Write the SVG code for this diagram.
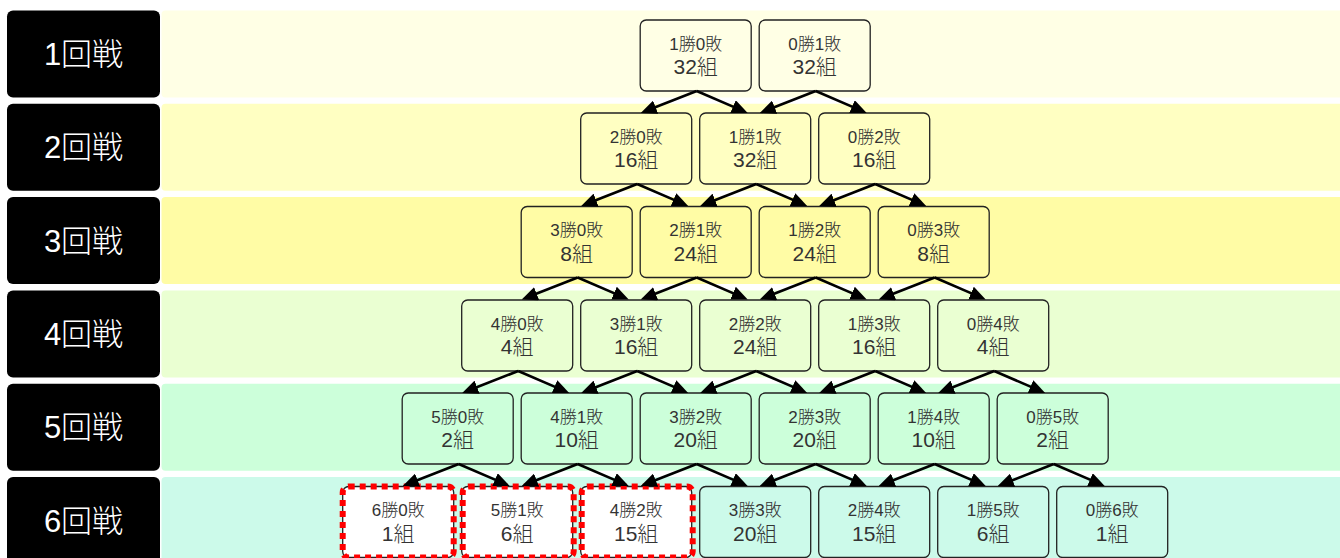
<svg xmlns="http://www.w3.org/2000/svg" width="1340" height="558" viewBox="0 0 1340 558">
<defs>
<marker id="ah" markerUnits="userSpaceOnUse" markerWidth="16" markerHeight="14" refX="10" refY="7" orient="auto"><path d="M0,0 L16,7 L0,14 z" fill="#000"/></marker>
</defs>
<style>
text{font-family:"Liberation Sans","Noto Sans CJK JP",sans-serif;font-weight:300;text-anchor:middle;fill:#333}
.lb{fill:#000}
.lt{fill:#fff;font-size:31px}
.n rect{stroke:#222;stroke-width:1.3}
.t1{font-size:17px}
.t2{font-size:21px}
.r1{fill:#FFFFE5}.r2{fill:#FFFFC2}.r3{fill:#FFFCA5}.r4{fill:#EAFFD2}.r5{fill:#CCFFDA}.r6{fill:#CCFAEA}
.n .hl{fill:none;stroke:#FF0000;stroke-width:6;stroke-dasharray:6 5}
.a{stroke:#000;stroke-width:2.6;fill:none;marker-end:url(#ah)}
</style>
<rect width="1340" height="558" fill="#fff"/>
<g id="rows">
<g id="row1"><rect class="lb" x="7" y="10.5" width="153" height="87" rx="6"/><text class="lt" x="83.5" y="65">1回戦</text><rect class="r1" x="161.5" y="10.5" width="1190" height="87" rx="4"/></g>
<g id="row2"><rect class="lb" x="7" y="103.8" width="153" height="87" rx="6"/><text class="lt" x="83.5" y="158.3">2回戦</text><rect class="r2" x="161.5" y="103.8" width="1190" height="87" rx="4"/></g>
<g id="row3"><rect class="lb" x="7" y="197.1" width="153" height="87" rx="6"/><text class="lt" x="83.5" y="251.6">3回戦</text><rect class="r3" x="161.5" y="197.1" width="1190" height="87" rx="4"/></g>
<g id="row4"><rect class="lb" x="7" y="290.4" width="153" height="87" rx="6"/><text class="lt" x="83.5" y="344.9">4回戦</text><rect class="r4" x="161.5" y="290.4" width="1190" height="87" rx="4"/></g>
<g id="row5"><rect class="lb" x="7" y="383.7" width="153" height="87" rx="6"/><text class="lt" x="83.5" y="438.2">5回戦</text><rect class="r5" x="161.5" y="383.7" width="1190" height="87" rx="4"/></g>
<g id="row6"><rect class="lb" x="7" y="477" width="153" height="87" rx="6"/><text class="lt" x="83.5" y="531.5">6回戦</text><rect class="r6" x="161.5" y="477" width="1190" height="87" rx="4"/></g>
</g>
<g id="nodes">
<g id="n1-0" class="n"><rect class="r1" x="640.2" y="20" width="111" height="71" rx="6"/><text x="695.7" y="49.5"><tspan class="t1">1勝0敗</tspan><tspan class="t2" x="695.7" y="74">32組</tspan></text></g>
<g id="n1-1" class="n"><rect class="r1" x="759.2" y="20" width="111" height="71" rx="6"/><text x="814.7" y="49.5"><tspan class="t1">0勝1敗</tspan><tspan class="t2" x="814.7" y="74">32組</tspan></text></g>

<g id="n2-0" class="n"><rect class="r2" x="580.7" y="113" width="111" height="71" rx="6"/><text x="636.2" y="142.5"><tspan class="t1">2勝0敗</tspan><tspan class="t2" x="636.2" y="167">16組</tspan></text></g>
<g id="n2-1" class="n"><rect class="r2" x="699.7" y="113" width="111" height="71" rx="6"/><text x="755.2" y="142.5"><tspan class="t1">1勝1敗</tspan><tspan class="t2" x="755.2" y="167">32組</tspan></text></g>
<g id="n2-2" class="n"><rect class="r2" x="818.7" y="113" width="111" height="71" rx="6"/><text x="874.2" y="142.5"><tspan class="t1">0勝2敗</tspan><tspan class="t2" x="874.2" y="167">16組</tspan></text></g>

<g id="n3-0" class="n"><rect class="r3" x="521.2" y="206.5" width="111" height="71" rx="6"/><text x="576.7" y="236"><tspan class="t1">3勝0敗</tspan><tspan class="t2" x="576.7" y="260.5">8組</tspan></text></g>
<g id="n3-1" class="n"><rect class="r3" x="640.2" y="206.5" width="111" height="71" rx="6"/><text x="695.7" y="236"><tspan class="t1">2勝1敗</tspan><tspan class="t2" x="695.7" y="260.5">24組</tspan></text></g>
<g id="n3-2" class="n"><rect class="r3" x="759.2" y="206.5" width="111" height="71" rx="6"/><text x="814.7" y="236"><tspan class="t1">1勝2敗</tspan><tspan class="t2" x="814.7" y="260.5">24組</tspan></text></g>
<g id="n3-3" class="n"><rect class="r3" x="878.2" y="206.5" width="111" height="71" rx="6"/><text x="933.7" y="236"><tspan class="t1">0勝3敗</tspan><tspan class="t2" x="933.7" y="260.5">8組</tspan></text></g>

<g id="n4-0" class="n"><rect class="r4" x="461.7" y="300" width="111" height="71" rx="6"/><text x="517.2" y="329.5"><tspan class="t1">4勝0敗</tspan><tspan class="t2" x="517.2" y="354">4組</tspan></text></g>
<g id="n4-1" class="n"><rect class="r4" x="580.7" y="300" width="111" height="71" rx="6"/><text x="636.2" y="329.5"><tspan class="t1">3勝1敗</tspan><tspan class="t2" x="636.2" y="354">16組</tspan></text></g>
<g id="n4-2" class="n"><rect class="r4" x="699.7" y="300" width="111" height="71" rx="6"/><text x="755.2" y="329.5"><tspan class="t1">2勝2敗</tspan><tspan class="t2" x="755.2" y="354">24組</tspan></text></g>
<g id="n4-3" class="n"><rect class="r4" x="818.7" y="300" width="111" height="71" rx="6"/><text x="874.2" y="329.5"><tspan class="t1">1勝3敗</tspan><tspan class="t2" x="874.2" y="354">16組</tspan></text></g>
<g id="n4-4" class="n"><rect class="r4" x="937.7" y="300" width="111" height="71" rx="6"/><text x="993.2" y="329.5"><tspan class="t1">0勝4敗</tspan><tspan class="t2" x="993.2" y="354">4組</tspan></text></g>

<g id="n5-0" class="n"><rect class="r5" x="402.2" y="393" width="111" height="71" rx="6"/><text x="457.7" y="422.5"><tspan class="t1">5勝0敗</tspan><tspan class="t2" x="457.7" y="447">2組</tspan></text></g>
<g id="n5-1" class="n"><rect class="r5" x="521.2" y="393" width="111" height="71" rx="6"/><text x="576.7" y="422.5"><tspan class="t1">4勝1敗</tspan><tspan class="t2" x="576.7" y="447">10組</tspan></text></g>
<g id="n5-2" class="n"><rect class="r5" x="640.2" y="393" width="111" height="71" rx="6"/><text x="695.7" y="422.5"><tspan class="t1">3勝2敗</tspan><tspan class="t2" x="695.7" y="447">20組</tspan></text></g>
<g id="n5-3" class="n"><rect class="r5" x="759.2" y="393" width="111" height="71" rx="6"/><text x="814.7" y="422.5"><tspan class="t1">2勝3敗</tspan><tspan class="t2" x="814.7" y="447">20組</tspan></text></g>
<g id="n5-4" class="n"><rect class="r5" x="878.2" y="393" width="111" height="71" rx="6"/><text x="933.7" y="422.5"><tspan class="t1">1勝4敗</tspan><tspan class="t2" x="933.7" y="447">10組</tspan></text></g>
<g id="n5-5" class="n"><rect class="r5" x="997.2" y="393" width="111" height="71" rx="6"/><text x="1052.7" y="422.5"><tspan class="t1">0勝5敗</tspan><tspan class="t2" x="1052.7" y="447">2組</tspan></text></g>

<g id="n6-0" class="n"><rect x="342.7" y="486.5" width="111" height="71" rx="6" fill="#fff" stroke="#fff"/><rect class="hl" x="342.7" y="486.5" width="111" height="71" rx="6"/><text x="398.2" y="516"><tspan class="t1">6勝0敗</tspan><tspan class="t2" x="398.2" y="540.5">1組</tspan></text></g>
<g id="n6-1" class="n"><rect x="461.7" y="486.5" width="111" height="71" rx="6" fill="#fff"/><rect class="hl" x="462.7" y="486.5" width="111" height="71" rx="6"/><text x="517.2" y="516"><tspan class="t1">5勝1敗</tspan><tspan class="t2" x="517.2" y="540.5">6組</tspan></text></g>
<g id="n6-2" class="n"><rect x="580.7" y="486.5" width="111" height="71" rx="6" fill="#fff"/><rect class="hl" x="581.7" y="486.5" width="111" height="71" rx="6"/><text x="636.2" y="516"><tspan class="t1">4勝2敗</tspan><tspan class="t2" x="636.2" y="540.5">15組</tspan></text></g>
<g id="n6-3" class="n"><rect class="r6" x="699.7" y="486.5" width="111" height="71" rx="6"/><text x="755.2" y="516"><tspan class="t1">3勝3敗</tspan><tspan class="t2" x="755.2" y="540.5">20組</tspan></text></g>
<g id="n6-4" class="n"><rect class="r6" x="818.7" y="486.5" width="111" height="71" rx="6"/><text x="874.2" y="516"><tspan class="t1">2勝4敗</tspan><tspan class="t2" x="874.2" y="540.5">15組</tspan></text></g>
<g id="n6-5" class="n"><rect class="r6" x="937.7" y="486.5" width="111" height="71" rx="6"/><text x="993.2" y="516"><tspan class="t1">1勝5敗</tspan><tspan class="t2" x="993.2" y="540.5">6組</tspan></text></g>
<g id="n6-6" class="n"><rect class="r6" x="1056.7" y="486.5" width="111" height="71" rx="6"/><text x="1112.2" y="516"><tspan class="t1">0勝6敗</tspan><tspan class="t2" x="1112.2" y="540.5">1組</tspan></text></g>
</g>
<g id="connectors">
<path class="a" d="M696.7 91l-50.4 19.8"/><path class="a" d="M696.7 91l45.5 19.6"/>
<path class="a" d="M815.7 91l-50.4 19.8"/><path class="a" d="M815.7 91l45.5 19.6"/>

<path class="a" d="M637.2 184l-50.4 19.8"/><path class="a" d="M637.2 184l45.5 19.6"/>
<path class="a" d="M756.2 184l-50.4 19.8"/><path class="a" d="M756.2 184l45.5 19.6"/>
<path class="a" d="M875.2 184l-50.4 19.8"/><path class="a" d="M875.2 184l45.5 19.6"/>

<path class="a" d="M577.7 277.5l-50.4 19.8"/><path class="a" d="M577.7 277.5l45.5 19.6"/>
<path class="a" d="M696.7 277.5l-50.4 19.8"/><path class="a" d="M696.7 277.5l45.5 19.6"/>
<path class="a" d="M815.7 277.5l-50.4 19.8"/><path class="a" d="M815.7 277.5l45.5 19.6"/>
<path class="a" d="M934.7 277.5l-50.4 19.8"/><path class="a" d="M934.7 277.5l45.5 19.6"/>

<path class="a" d="M518.2 371l-50.4 19.8"/><path class="a" d="M518.2 371l45.5 19.6"/>
<path class="a" d="M637.2 371l-50.4 19.8"/><path class="a" d="M637.2 371l45.5 19.6"/>
<path class="a" d="M756.2 371l-50.4 19.8"/><path class="a" d="M756.2 371l45.5 19.6"/>
<path class="a" d="M875.2 371l-50.4 19.8"/><path class="a" d="M875.2 371l45.5 19.6"/>
<path class="a" d="M994.2 371l-50.4 19.8"/><path class="a" d="M994.2 371l45.5 19.6"/>

<path class="a" d="M458.7 464l-50.4 19.8"/><path class="a" d="M458.7 464l45.5 19.6"/>
<path class="a" d="M577.7 464l-50.4 19.8"/><path class="a" d="M577.7 464l45.5 19.6"/>
<path class="a" d="M696.7 464l-50.4 19.8"/><path class="a" d="M696.7 464l45.5 19.6"/>
<path class="a" d="M815.7 464l-50.4 19.8"/><path class="a" d="M815.7 464l45.5 19.6"/>
<path class="a" d="M934.7 464l-50.4 19.8"/><path class="a" d="M934.7 464l45.5 19.6"/>
<path class="a" d="M1053.7 464l-50.4 19.8"/><path class="a" d="M1053.7 464l45.5 19.6"/>
</g>
</svg>
